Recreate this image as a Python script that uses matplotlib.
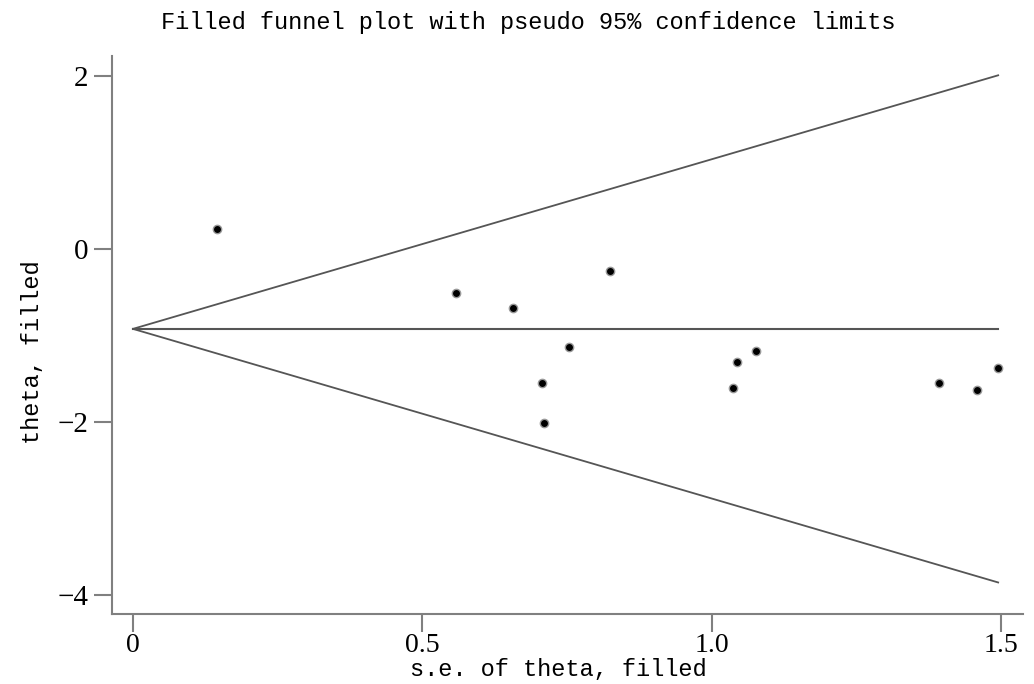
import numpy as np
import matplotlib
matplotlib.use("Agg")
import matplotlib.pyplot as plt

# values
se = [0.146, 0.558, 0.657, 0.706, 0.711, 0.753, 0.824, 1.036, 1.043, 1.077, 1.393, 1.458, 1.495]
theta = [0.229, -0.514, -0.685, -1.551, -2.013, -1.135, -0.256, -1.608, -1.304, -1.182, -1.551, -1.628, -1.374]
pooled = -0.925
z = 1.96
xticks = [0, 0.5, 1.0, 1.5]
xticklabels = ["0", "0.5", "1.0", "1.5"]
yticks = [2, 0, -2, -4]
yticklabels = ["2", "0", "\u22122", "\u22124"]

fig = plt.figure(figsize=(10.34, 6.84), dpi=100)
ax = fig.add_axes([0.108, 0.1023, 0.8814, 0.8158])

semax = max(se)
s = np.array([0.0, semax])
ax.plot(s, pooled + z * s, color="#555555", lw=1.3)
ax.plot(s, pooled - z * s, color="#555555", lw=1.3)
ax.plot(s, [pooled, pooled], color="#555555", lw=1.5)
ax.scatter(se, theta, s=36, color="black", edgecolors="#999999", linewidths=1.0, zorder=3)

ax.set_xlim(-0.0368, 1.538)
ax.set_ylim(-4.22, 2.228)

for side in ["top", "right"]:
    ax.spines[side].set_visible(False)
for side in ["left", "bottom"]:
    ax.spines[side].set_color("#808080")
    ax.spines[side].set_linewidth(1.5)

ax.set_xticks(xticks)
ax.set_xticklabels(xticklabels, fontdict={"family": "Liberation Serif", "size": 20})
ax.set_yticks(yticks)
ax.set_yticklabels(yticklabels, fontdict={"family": "Liberation Serif", "size": 21})
ax.tick_params(axis="both", direction="out", length=13, width=1.5, color="#808080")
ax.tick_params(axis="x", pad=1)
ax.tick_params(axis="y", pad=4)

lab = {"family": "Liberation Mono", "size": 17}
fig.text(528 / 1034, 1 - 22 / 684, "Filled funnel plot with pseudo 95% confidence limits",
         ha="center", va="center", fontdict=lab)
fig.text(558 / 1034, 1 - 670 / 684, "s.e. of theta, filled", ha="center", va="center", fontdict=lab)
fig.text(33 / 1034, 1 - 352 / 684, "theta, filled", ha="center", va="center", rotation=90, fontdict=lab)

fig.savefig("out.png", dpi=100)
